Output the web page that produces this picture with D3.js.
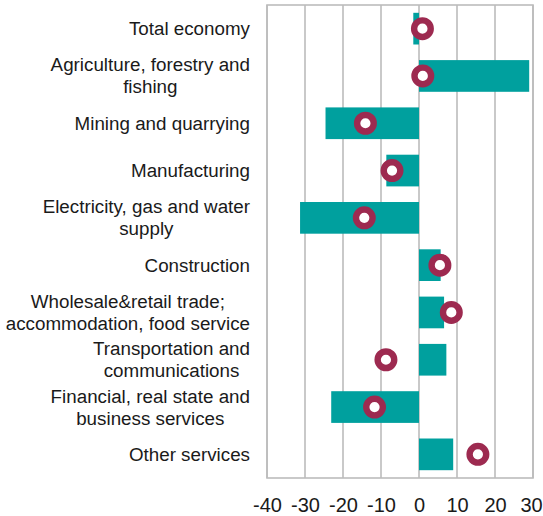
<!DOCTYPE html>
<html>
<head>
<meta charset="utf-8">
<script src="https://cdn.jsdelivr.net/npm/d3@7/dist/d3.min.js"></script>
<style>
  html, body { margin: 0; padding: 0; background: #fff; }
  svg text { font-family: "Liberation Sans", Arial, sans-serif; fill: #1a1a1a; }
</style>
</head>
<body>
<svg id="chart" width="543" height="516"></svg>
<script>
// Sector labels (one entry per line)
const sectors = [
  ["Total economy"],
  ["Agriculture, forestry and", "fishing"],
  ["Mining and quarrying"],
  ["Manufacturing"],
  ["Electricity, gas and water", "supply"],
  ["Construction"],
  ["Wholesale&retail trade;", "accommodation, food service"],
  ["Transportation and", "communications "],
  ["Financial, real state and", "business services"],
  ["Other services"]
];
// Bar series
const barValues = [-1.5, 29.0, -24.6, -8.6, -31.3, 5.7, 6.6, 7.2, -23.1, 9.0];
// Circle marker series
const dotValues = [0.9, 1.0, -14.1, -7.1, -14.4, 5.5, 8.5, -8.7, -11.7, 15.5];
// Axis ticks
const tickValues = [-40, -30, -20, -10, 0, 10, 20, 30];

const svg = d3.select("#chart");
const plot = { left: 267, right: 533, top: 5, bottom: 478 };
const labelRight = 250;

const x = d3.scaleLinear().domain([-40, 30]).range([plot.left, plot.right]);
const y = d3.scaleBand()
  .domain(d3.range(sectors.length))
  .range([plot.top, plot.bottom])
  .paddingInner(0.33)
  .paddingOuter(0.165);

const gridColor = "#bcbcbc";

// Vertical gridlines
svg.append("g").selectAll("line")
  .data(tickValues)
  .join("line")
  .attr("x1", d => x(d)).attr("x2", d => x(d))
  .attr("y1", plot.top).attr("y2", plot.bottom)
  .attr("stroke", gridColor).attr("stroke-width", 1.6);

// Plot frame
svg.append("rect")
  .attr("x", plot.left).attr("y", plot.top)
  .attr("width", plot.right - plot.left).attr("height", plot.bottom - plot.top)
  .attr("fill", "none").attr("stroke", gridColor).attr("stroke-width", 1.6);

// Bars
svg.append("g").selectAll("rect")
  .data(barValues)
  .join("rect")
  .attr("x", d => x(Math.min(0, d)))
  .attr("width", d => Math.abs(x(d) - x(0)))
  .attr("y", (d, i) => y(i))
  .attr("height", y.bandwidth())
  .attr("fill", "#00a09e");

// Circle markers
svg.append("g").selectAll("circle")
  .data(dotValues)
  .join("circle")
  .attr("cx", d => x(d))
  .attr("cy", (d, i) => y(i) + y.bandwidth() / 2)
  .attr("r", 8.3)
  .attr("fill", "#fff")
  .attr("stroke", "#9d2a50")
  .attr("stroke-width", 6.4);

// X axis tick labels
const xAxis = d3.axisBottom(x).tickValues(tickValues).tickSize(0).tickPadding(0)
  .tickFormat(d => d3.format("d")(d).replace("−", "-"));
const gx = svg.append("g")
  .attr("transform", `translate(0, ${plot.bottom + 19.5})`)
  .call(xAxis);
gx.select(".domain").remove();
gx.selectAll("text")
  .attr("font-size", 20)
  .attr("font-family", "Liberation Sans, Arial, sans-serif")
  .attr("fill", "#1a1a1a");
// keep the last label inside the canvas
gx.selectAll(".tick").filter(d => d === tickValues[tickValues.length - 1])
  .select("text").attr("dx", -2);

// Category labels, centred lines, right edge aligned to labelRight
const lineH = 22;
const labels = svg.append("g").selectAll("text")
  .data(sectors)
  .join("text")
  .attr("font-size", 18.8)
  .attr("text-anchor", "middle")
  .attr("y", (d, i) => y(i) + y.bandwidth() / 2 + 6.5 - (d.length - 1) * lineH / 2);

labels.each(function(lines) {
  const t = d3.select(this);
  lines.forEach((ln, k) => {
    t.append("tspan").attr("x", 0).attr("dy", k === 0 ? 0 : lineH).text(ln);
  });
  const widths = [];
  t.selectAll("tspan").each(function() { widths.push(this.getComputedTextLength()); });
  const w = d3.max(widths);
  t.selectAll("tspan").attr("x", labelRight - w / 2);
});
</script>
</body>
</html>
